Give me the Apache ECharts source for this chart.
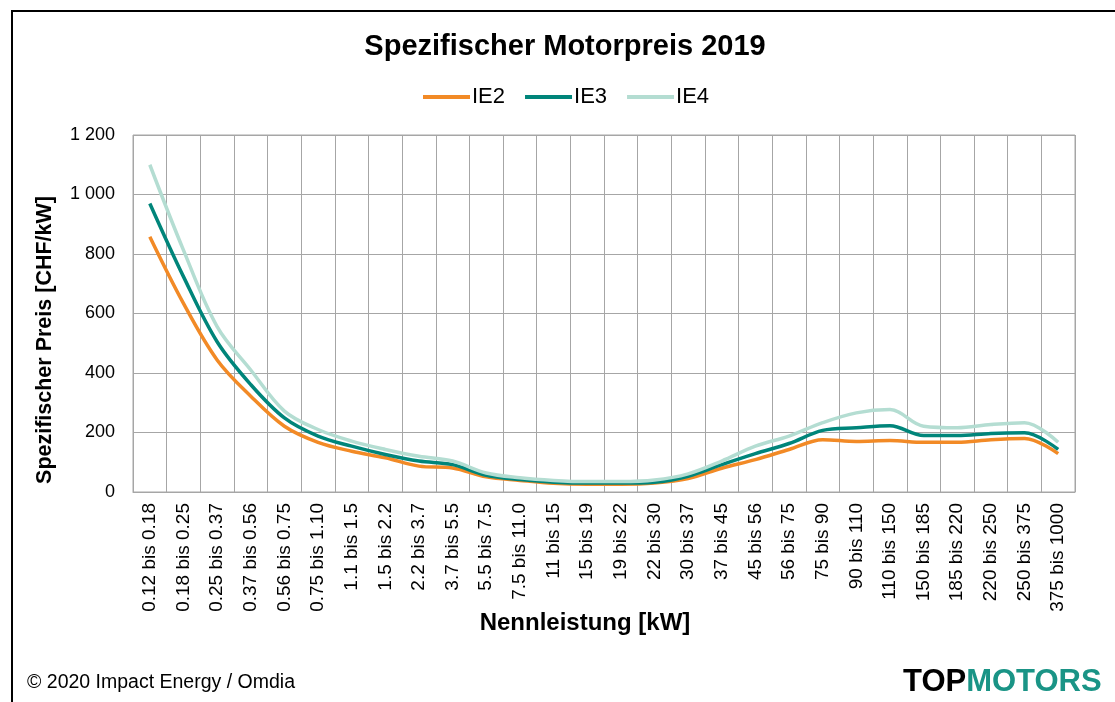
<!DOCTYPE html>
<html>
<head>
<meta charset="utf-8">
<script src="https://cdn.jsdelivr.net/npm/echarts@6/dist/echarts.min.js"></script>
<style>
html,body{margin:0;padding:0;background:#fff;}
#chart{width:1115px;height:702px;}
</style>
</head>
<body>
<div id="chart"></div>
<script>
const categories = ["0.12 bis 0.18","0.18 bis 0.25","0.25 bis 0.37","0.37 bis 0.56","0.56 bis 0.75","0.75 bis 1.10","1.1 bis 1.5","1.5 bis 2.2","2.2 bis 3.7","3.7 bis 5.5","5.5 bis 7.5","7.5 bis 11.0","11 bis 15","15 bis 19","19 bis 22","22 bis 30","30 bis 37","37 bis 45","45 bis 56","56 bis 75","75 bis 90","90 bis 110","110 bis 150","150 bis 185","185 bis 220","220 bis 250","250 bis 375","375 bis 1000"];
const ie2 = [858,634,444,322,221,167,137,115,87,81,51,39,29,26,26,30,45,80,109,143,176,170,173,167,167,176,180,129];
const ie3 = [970,724,505,361,249,188,154,126,104,92,56,42,33,30,30,33,53,92,129,163,207,216,223,190,190,197,199,143];
const ie4 = [1100,813,556,410,272,210,171,143,120,104,64,48,39,35,35,40,61,104,154,188,233,266,277,221,216,227,233,167];
const yTicks = [0,200,400,600,800,1000,1200];

const chart = echarts.init(document.getElementById('chart'));
const font = 'Liberation Sans, Arial, sans-serif';
function mk(name, data, color){
  return {name:name,type:'line',data:data,smooth:0.35,symbol:'none',
    lineStyle:{color:color,width:3.5},itemStyle:{color:color}};
}
chart.setOption({
  animation:false,
  textStyle:{fontFamily:font},
  legend:{top:86,left:423,padding:0,itemWidth:47,itemHeight:4,itemGap:20,icon:'rect',
    textStyle:{fontFamily:font,fontSize:22,color:'#000',padding:[0,0,0,-3]},
    data:['IE2','IE3','IE4']},
  grid:{left:133,right:40,top:135,bottom:210,show:true,borderColor:'#a6a6a6',borderWidth:1},
  xAxis:{type:'category',data:categories,boundaryGap:true,
    axisLine:{show:true,lineStyle:{color:'#a6a6a6'}},axisTick:{show:false},
    splitLine:{show:true,interval:0,lineStyle:{color:'#a6a6a6',width:1}},
    axisLabel:{rotate:90,interval:0,margin:11,fontSize:19,color:'#000',fontFamily:font}},
  yAxis:{type:'value',min:yTicks[0],max:yTicks[yTicks.length-1],interval:200,
    axisLine:{show:false},axisTick:{show:false},
    splitLine:{show:true,lineStyle:{color:'#a6a6a6',width:1}},
    axisLabel:{fontSize:18,color:'#000',margin:18,fontFamily:font,
      formatter:v=>String(v).replace(/\B(?=(\d{3})+(?!\d))/g,' ')}},
  series:[mk('IE2',ie2,'#F28A26'),mk('IE3',ie3,'#00857A'),mk('IE4',ie4,'#B4DDD2')],
  graphic:[
    {type:'rect',shape:{x:12,y:11,width:1200,height:800},style:{fill:'none',stroke:'#000',lineWidth:2},silent:true},
    {type:'text',x:565,y:47,style:{text:'Spezifischer Motorpreis 2019',font:'bold 29px '+font,fill:'#000',align:'center',verticalAlign:'middle'}},
    {type:'text',x:45,y:340,rotation:Math.PI/2,style:{text:'Spezifischer Preis [CHF/kW]',font:'bold 21.5px '+font,fill:'#000',align:'center',verticalAlign:'middle'}},
    {type:'text',x:585,y:623,style:{text:'Nennleistung [kW]',font:'bold 24px '+font,fill:'#000',align:'center',verticalAlign:'middle'}},
    {type:'text',x:27,y:683,style:{text:'© 2020 Impact Energy / Omdia',font:'19.5px '+font,fill:'#000',verticalAlign:'middle'}},
    {type:'text',left:903,top:667,style:{text:'{a|TOP}{b|MOTORS}',
      rich:{a:{fontFamily:font,fontSize:31,fontWeight:'bold',fill:'#000',color:'#000'},
            b:{fontFamily:font,fontSize:31,fontWeight:'bold',fill:'#1A9486',color:'#1A9486'}}}}
  ]
});
</script>
</body>
</html>
